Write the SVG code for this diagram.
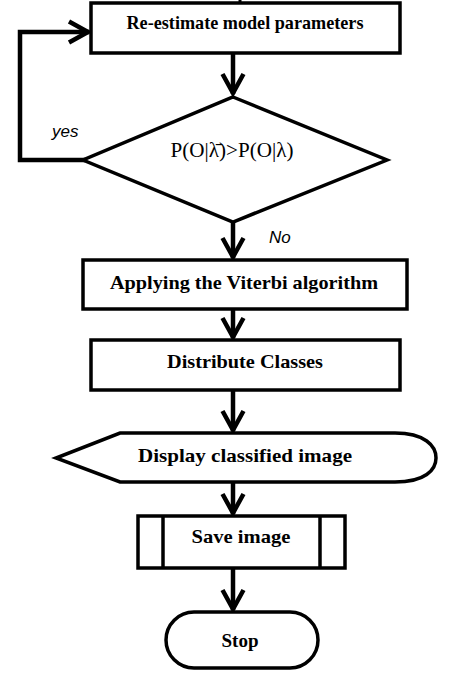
<svg xmlns="http://www.w3.org/2000/svg" width="474" height="683" viewBox="0 0 474 683">
<defs>
<marker id="chev" markerUnits="userSpaceOnUse" markerWidth="30" markerHeight="30" viewBox="-22 -15 30 30" refX="0" refY="0" orient="auto" overflow="visible">
<path d="M-20,-10.5 L-1,0 L-20,10.5" fill="none" stroke="#000" stroke-width="4.5" stroke-linejoin="miter"/>
</marker>
</defs>
<style>
.shape{fill:#fff;stroke:#000;stroke-width:3.5;stroke-linejoin:miter}
.conn{fill:none;stroke:#000;stroke-width:4.5;marker-end:url(#chev)}
.lbl{font-family:"Liberation Serif","Times New Roman",serif;font-weight:bold;font-size:19.5px;fill:#000;text-anchor:middle}
.ital{font-family:"Liberation Sans",Arial,sans-serif;font-style:italic;font-size:17px;fill:#000}
</style>
<rect width="474" height="683" fill="#fff"/>
<g id="connectors">
<line x1="240" y1="0" x2="240" y2="3" stroke="#000" stroke-width="3"/>
<path class="conn" d="M85,160 L20,160 L20,32 L89,32"/>
<path class="conn" d="M233,53 L233,94"/>
<path class="conn" d="M233,222 L233,258"/>
<path class="conn" d="M233,309 L233,338"/>
<path class="conn" d="M233,390 L233,431"/>
<path class="conn" d="M233,482 L233,514"/>
<path class="conn" d="M233,568 L233,610"/>
</g>
<g id="reestimate">
<rect class="shape" x="91" y="3" width="309" height="50"/>
<text class="lbl" x="245" y="29" textLength="237" lengthAdjust="spacingAndGlyphs">Re-estimate  model parameters</text>
</g>
<g id="decision">
<path class="shape" d="M233,97 L387,160 L233,222 L83,160 Z"/>
<text x="232" y="157" font-family="'Liberation Serif','Times New Roman',serif" font-size="20" text-anchor="middle" textLength="123" lengthAdjust="spacingAndGlyphs">P(O|λ̄)&gt;P(O|λ)</text>
</g>
<g id="labels">
<text class="ital" x="52" y="137">yes</text>
<text class="ital" x="269" y="243">No</text>
</g>
<g id="viterbi">
<rect class="shape" x="83" y="260" width="324" height="49"/>
<text class="lbl" x="244" y="289" textLength="268" lengthAdjust="spacingAndGlyphs">Applying the Viterbi algorithm</text>
</g>
<g id="distribute">
<rect class="shape" x="91" y="340" width="309" height="50"/>
<text class="lbl" x="245" y="368" textLength="156" lengthAdjust="spacingAndGlyphs">Distribute Classes</text>
</g>
<g id="display">
<path class="shape" d="M120,433 L395,433 C425,433 436,446 436,458 C436,470 425,482 395,482 L120,482 L56,458 Z"/>
<text class="lbl" x="245" y="462" textLength="214" lengthAdjust="spacingAndGlyphs">Display classified  image</text>
</g>
<g id="save">
<rect class="shape" x="138" y="516" width="207" height="52"/>
<line x1="163" y1="516" x2="163" y2="568" stroke="#000" stroke-width="3.5"/>
<line x1="320" y1="516" x2="320" y2="568" stroke="#000" stroke-width="3.5"/>
<text class="lbl" x="241" y="543" textLength="99" lengthAdjust="spacingAndGlyphs">Save image</text>
</g>
<g id="stop">
<rect class="shape" x="166" y="612" width="152" height="56" rx="28" ry="28"/>
<text class="lbl" x="240" y="647" textLength="37" lengthAdjust="spacingAndGlyphs">Stop</text>
</g>
</svg>
